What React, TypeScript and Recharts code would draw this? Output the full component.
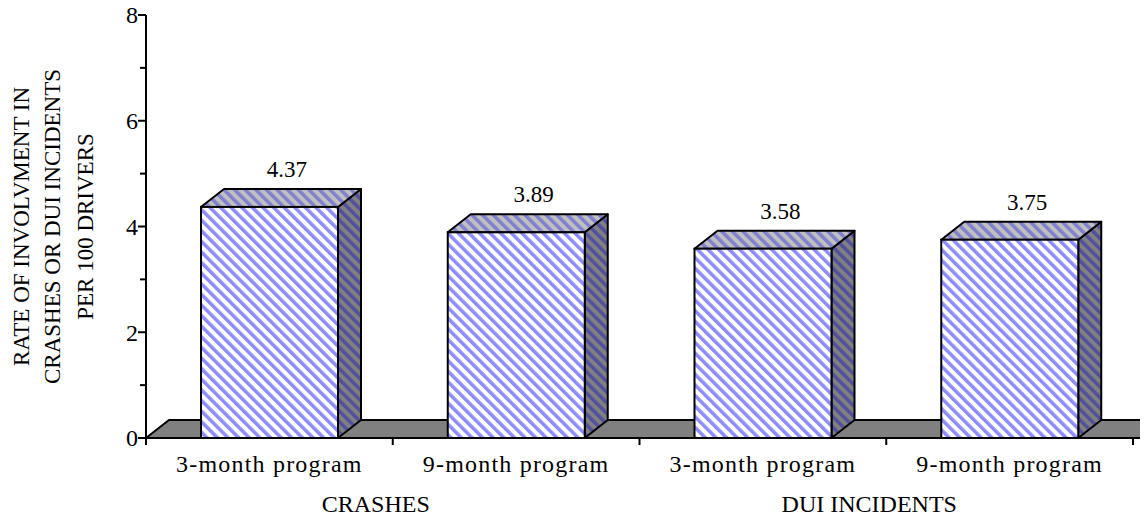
import React from 'react';
import { BarChart, Bar, XAxis, YAxis, ReferenceArea } from 'recharts';

// bars, left to right
const programs = ['3-month program', '9-month program', '3-month program', '9-month program'];
const rates = [4.37, 3.89, 3.58, 3.75];
// one caption per pair of bars
const groups = ['CRASHES', 'DUI INCIDENTS'];
const yTicks = [0, 1, 2, 3, 4, 5, 6, 7, 8];
const yTitle = ['RATE OF INVOLVMENT IN', 'CRASHES OR DUI INCIDENTS', 'PER 100 DRIVERS'];

const data = programs.map((program, i) => ({ program, rate: rates[i] }));

const FONT = 'Liberation Serif';
const txt = { fontFamily: FONT, fontSize: 24, fill: '#000' };
const DX = 23;
const DY = 18;

function Box3D(props: any) {
  const { x, y, width, height, payload } = props;
  const r = x + width;
  const b = y + height;
  const top = `${x},${y} ${x + DX},${y - DY} ${r + DX},${y - DY} ${r},${y}`;
  const side = `${r},${y} ${r + DX},${y - DY} ${r + DX},${b - DY} ${r},${b}`;
  return (
    <g>
      <polygon points={side} fill="url(#hatchSide)" stroke="#000" strokeWidth={2} strokeLinejoin="round" />
      <polygon points={top} fill="url(#hatchTop)" stroke="#000" strokeWidth={2} strokeLinejoin="round" />
      <rect x={x} y={y} width={width} height={height} fill="url(#hatchFront)" stroke="#000" strokeWidth={2} />
      <text x={x + width / 2 + DX * 0.75} y={y - DY - 12} textAnchor="middle" style={{ ...txt, fontSize: 23 }}>
        {payload.rate.toFixed(2)}
      </text>
    </g>
  );
}

function Floor(props: any) {
  const { x, y, width, height } = props;
  const b = y + height;
  const t = b - DY;
  const pts = `${x},${b} ${x + width},${b} ${x + width + DX},${t} ${x + DX},${t}`;
  return <polygon points={pts} fill="#808080" stroke="#000" strokeWidth={2} strokeLinejoin="round" />;
}

function YTick(props: any) {
  const { x, y, payload } = props;
  const v = payload.value;
  const major = v % 2 === 0;
  return (
    <g>
      <line x1={major ? x : x + 2} x2={x + 8} y1={y} y2={y} stroke="#000" strokeWidth={2} />
      {major && (
        <text x={x} y={y} dy="0.35em" textAnchor="end" style={txt}>
          {v}
        </text>
      )}
    </g>
  );
}

// category label under each bar, boundary ticks between bars, group caption under every pair
function CatTick(props: any) {
  const { x, y, payload, index, width } = props;
  const band = width / programs.length;
  const left = x - band / 2;
  const right = x + band / 2;
  return (
    <g>
      <line x1={left} x2={left} y1={y} y2={y + 7} stroke="#000" strokeWidth={2} />
      {index === programs.length - 1 && (
        <line x1={right} x2={right} y1={y} y2={y + 7} stroke="#000" strokeWidth={2} />
      )}
      <text x={x} y={y + 34} textAnchor="middle" style={{ ...txt, letterSpacing: 1.2 }}>
        {payload.value}
      </text>
      {index % 2 === 0 && (
        <text x={right - 17} y={y + 74} textAnchor="middle" style={txt}>
          {groups[index / 2]}
        </text>
      )}
    </g>
  );
}

function YTitle(props: any) {
  const vb = props.viewBox || { x: 0, y: 15, width: 146, height: 423 };
  const cy = vb.y + vb.height / 2;
  const xs = [21, 52, 85];
  return (
    <g>
      {yTitle.map((line, i) => (
        <text
          key={i}
          x={vb.x + xs[i]}
          y={cy}
          transform={`rotate(-90 ${vb.x + xs[i]} ${cy})`}
          textAnchor="middle"
          dominantBaseline="central"
          style={{ ...txt, fontSize: 23 }}
        >
          {line}
        </text>
      ))}
    </g>
  );
}

export default function App() {
  return (
    <div style={{ position: 'relative', width: 1148, height: 516, margin: '-8px 0 0 -8px' }}>
      <svg width={0} height={0} style={{ position: 'absolute' }}>
        <defs>
          <pattern id="hatchFront" patternUnits="userSpaceOnUse" width={7.5} height={7.5} patternTransform="rotate(-45)">
            <rect width={7.5} height={7.5} fill="#ffffff" />
            <rect width={3.5} height={7.5} fill="#8c8cff" />
          </pattern>
          <pattern id="hatchTop" patternUnits="userSpaceOnUse" width={7.5} height={7.5} patternTransform="rotate(-45)">
            <rect width={7.5} height={7.5} fill="#c0c0c0" />
            <rect width={3.5} height={7.5} fill="#8080d0" />
          </pattern>
          <pattern id="hatchSide" patternUnits="userSpaceOnUse" width={7.5} height={7.5} patternTransform="rotate(-45)">
            <rect width={7.5} height={7.5} fill="#808080" />
            <rect width={3.5} height={7.5} fill="#50509e" />
          </pattern>
        </defs>
      </svg>
      <BarChart
        width={1148}
        height={516}
        data={data}
        margin={{ top: 15, right: 15, left: 0, bottom: 0 }}
        style={{ overflow: 'visible' }}
      >
        <XAxis xAxisId="num" type="number" domain={[0, 4]} hide allowDataOverflow />
        <XAxis
          xAxisId="cat"
          dataKey="program"
          height={78}
          axisLine={{ stroke: '#000', strokeWidth: 2 }}
          tickLine={false}
          tickSize={0}
          tickMargin={0}
          interval={0}
          tick={<CatTick />}
        />
        <YAxis
          width={146}
          domain={[0, 8]}
          ticks={yTicks}
          interval={0}
          axisLine={{ stroke: '#000', strokeWidth: 2 }}
          tickLine={false}
          tickSize={8}
          tickMargin={0}
          tick={<YTick />}
          label={<YTitle />}
        />
        <ReferenceArea xAxisId="num" x1={0} x2={4} y1={0} y2={0.34} shape={<Floor />} ifOverflow="visible" />
        <Bar xAxisId="cat" dataKey="rate" barSize={137} shape={<Box3D />} isAnimationActive={false} />
      </BarChart>
    </div>
  );
}
